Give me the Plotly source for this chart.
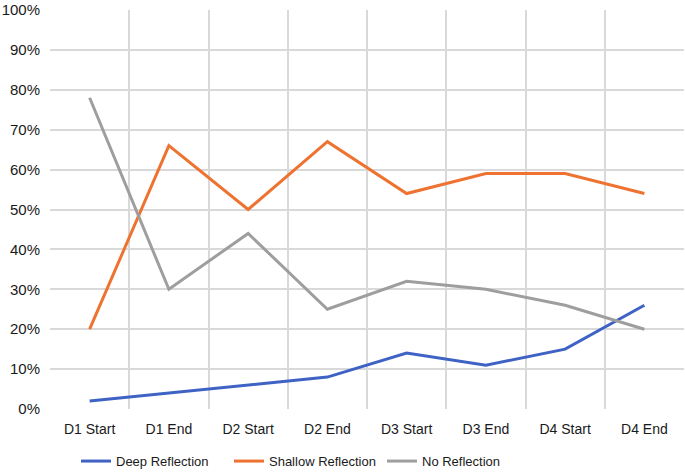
import plotly.graph_objects as go

# categories and series (fractions)
stages = ["D1 Start", "D1 End", "D2 Start", "D2 End",
          "D3 Start", "D3 End", "D4 Start", "D4 End"]
deep = [0.02, 0.04, 0.06, 0.08, 0.14, 0.11, 0.15, 0.26]
shallow = [0.20, 0.66, 0.50, 0.67, 0.54, 0.59, 0.59, 0.54]
no_refl = [0.78, 0.30, 0.44, 0.25, 0.32, 0.30, 0.26, 0.20]

fig = go.Figure()
fig.add_trace(go.Scatter(x=stages, y=deep, mode="lines", name="Deep Reflection",
                         line=dict(color="#3F63C4", width=3)))
fig.add_trace(go.Scatter(x=stages, y=shallow, mode="lines", name="Shallow Reflection",
                         line=dict(color="#EE7230", width=3)))
fig.add_trace(go.Scatter(x=stages, y=no_refl, mode="lines", name="No Reflection",
                         line=dict(color="#9E9E9E", width=3)))

fig.update_layout(
    width=685, height=472,
    margin=dict(l=50, r=1, t=10, b=63, autoexpand=False),
    paper_bgcolor="white", plot_bgcolor="white",
    font=dict(family="Liberation Sans, Arial, sans-serif", size=14, color="#1a1a1a"),
    legend=dict(orientation="h", x=0.041, xanchor="left", y=-0.093, yanchor="top",
                font=dict(size=13), itemwidth=30, tracegroupgap=0,
                entrywidth=108, entrywidthmode="pixels"),
    showlegend=True,
)
fig.update_xaxes(tickson="boundaries", showgrid=True, gridcolor="#D9D9D9", gridwidth=1.5,
                 ticks="", showline=False, range=[-0.5, 7.5], ticklabelstandoff=10,
                 automargin=False, tickfont=dict(size=14))
fig.update_yaxes(range=[0, 1], dtick=0.1, tickformat=".0%", showgrid=True,
                 gridcolor="#D9D9D9", gridwidth=1.5, zeroline=False, ticks="",
                 showline=False, ticklabelstandoff=9, automargin=False,
                 tickfont=dict(size=15))

# drop the browser's default 8px body margin so the figure fills the window
fig.write_html("out.html", config={"displayModeBar": False},
               post_script="document.body.style.margin='0';")
